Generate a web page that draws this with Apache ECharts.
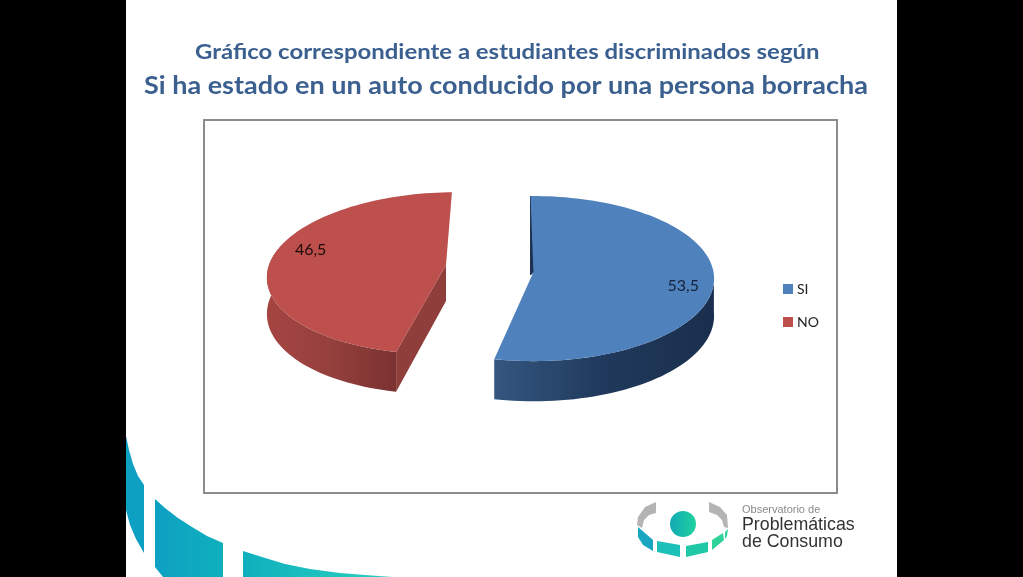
<!DOCTYPE html>
<html><head><meta charset="utf-8">
<style>html,body{margin:0;padding:0;background:#000}#c{width:1023px;height:577px}</style>
<script src="https://cdn.jsdelivr.net/npm/echarts@6/dist/echarts.min.js"></script>
</head><body><div id="c"></div>
<script>
const categories = ['SI', 'NO'];
const seriesValues = [53.5, 46.5];
const valueLabels = ['53,5', '46,5'];
const titleLine1 = 'Gráfico correspondiente a estudiantes discriminados según';
const titleLine2 = 'Si ha estado en un auto conducido por una persona borracha';

const START = -1;
const total = seriesValues.reduce((a, b) => a + b, 0);
const looks = [
  {cx:533.5, cy:272, rx:180, ry:82, k:.08, shear:0, depth:37, face:'#4f81bd', wall:'#1c3252',
   side:['#34567f','#20395c','#1a2f4d'], labelR:.83, labelDy:8, labelColor:'#14233a', labelDx:0},
  {cx:446, cy:265, rx:177, ry:80, k:.10, shear:.12, depth:36, face:'#bd4f4c', wall:'#8f3e3b',
   side:['#a54542','#94403d','#7a3230'], labelR:.76, labelDy:-10, labelColor:'#1c0b0b', labelDx:-3}
];
function pieItem(idx){
  return function(params, api){
    const L = looks[idx], v = api.value(0);
    let before = 0;
    for (let i = 0; i < idx; i++) before += seriesValues[i];
    const a0 = START + before / total * 360, a1 = a0 + v / total * 360;
    const P = (deg, r) => {
      const t = deg * Math.PI / 180, c = Math.cos(t), s = 1 / (1 + L.k * c * r);
      const dy = -L.ry * r * c * s;
      return [L.cx + L.rx * r * Math.sin(t) * s - L.shear * dy, L.cy + dy, s];
    };
    const face = [[L.cx, L.cy]];
    for (let d = a0; d < a1; d += 2) face.push(P(d, 1).slice(0, 2));
    face.push(P(a1, 1).slice(0, 2));
    const lo = Math.max(a0, 92), hi = Math.min(a1, 282);
    const top = [], bot = [];
    for (let d = lo; d < hi; d += 2) { const p = P(d, 1); top.push([p[0], p[1]]); bot.push([p[0], p[1] + L.depth * p[2]]); }
    const e = P(hi, 1); top.push([e[0], e[1]]); bot.push([e[0], e[1] + L.depth * e[2]]);
    const children = [];
    if (idx === 1) {
      const c = P(a0, 1);
      children.push({type:'polygon', shape:{points:[[L.cx, L.cy], [c[0], c[1]], [c[0], c[1] + L.depth * c[2]], [L.cx, L.cy + L.depth]]}, style:{fill:L.wall}});
    } else {
      const s0 = P(a0, 1);
      children.push({type:'polygon', shape:{points:[[s0[0], s0[1]], [L.cx, L.cy], [L.cx - 3, L.cy + 3]]}, style:{fill:L.wall, stroke:L.wall, lineWidth:1}});
    }
    children.push({type:'polygon', shape:{points:top.concat(bot.reverse())},
      style:{fill:{type:'linear', x:0, y:0, x2:1, y2:0, colorStops:[{offset:0,color:L.side[0]},{offset:.5,color:L.side[1]},{offset:1,color:L.side[2]}]}}});
    children.push({type:'polygon', shape:{points:face}, style:{fill:L.face}});
    const m = P((a0 + a1) / 2, L.labelR);
    children.push({type:'text', x:m[0] + L.labelDx, y:m[1] + L.labelDy,
      style:{text:valueLabels[idx], fontFamily:'Lato', fontSize:16, fill:L.labelColor, textAlign:'center', textVerticalAlign:'middle'}});
    return {type:'group', children};
  };
}
const tealA = '#0ea0c2', tealB = '#0fb0bd';
const poly = (points, fill) => ({type:'polygon', z:-5, shape:{points}, style:{fill}});
const stretchedTitle = (text, x, y, fontSize, scaleX) => ({type:'text', z:-3, x, y, scaleX,
  style:{text, fontFamily:'Lato', fontWeight:'bold', fontSize, fill:'#3b6090', textAlign:'left', textVerticalAlign:'middle'}});
const graphic = [
  {type:'rect', z:-10, shape:{x:126,y:0,width:771,height:577}, style:{fill:'#fff'}},
  {type:'rect', z:-4, shape:{x:204,y:120,width:633,height:373}, style:{fill:'#fff',stroke:'#8c8c8c',lineWidth:2}},
  stretchedTitle(titleLine1, 195, 52, 21, 1.139),
  stretchedTitle(titleLine2, 144, 86, 24.5, 1.102),
  poly([[126,436],[129,450],[133,464],[138,476],[144,485],[144,553],[136,539],[130,525],[126,510]], tealA),
  poly([[155,499],[165,508],[178,518],[192,527],[207,536],[223,543],[223,577],[163,577],[155,567]], {type:'linear',x:0,y:0,x2:1,y2:0,colorStops:[{offset:0,color:tealA},{offset:1,color:tealB}]}),
  poly([[243,551],[262,557],[285,564],[310,569],[340,573],[365,575],[393,577],[243,577]], {type:'linear',x:0,y:0,x2:1,y2:0,colorStops:[{offset:0,color:tealB},{offset:1,color:'#2cd0c0'}]}),
  poly([[656,502],[645,507],[638,517],[637,525],[642,528],[644,520],[649,515],[656,513]], '#b4b4b4'),
  poly([[709,502],[720,507],[727,515],[728,528],[724,527],[722,520],[717,515],[709,512]], '#b4b4b4'),
  poly([[638,527],[653,540],[653,551],[643,545],[638,537]], '#18a6c0'),
  poly([[657,541],[680,545],[680,557],[657,552]], '#1cc0b8'),
  poly([[686,546],[708,542],[708,552],[686,557]], '#20c8a8'),
  poly([[712,540],[723,533],[724,540],[712,550]], '#2fd39a'),
  poly([[725,532],[728,529],[727,536],[725,539]], '#2fd39a'),
  {type:'circle', z:-5, shape:{cx:683,cy:524,r:13}, style:{fill:{type:'linear',x:0,y:0,x2:1,y2:0,colorStops:[{offset:0,color:'#12a9b5'},{offset:1,color:'#20d3a0'}]}}},
  {type:'text', z:-5, x:742, y:504, style:{text:'Observatorio de', fontFamily:'Liberation Sans', fontSize:11, fill:'#8a8a8a'}},
  {type:'text', z:-5, x:742, y:516, style:{text:'Problemáticas', fontFamily:'Liberation Sans', fontSize:17.8, fill:'#333'}},
  {type:'text', z:-5, x:742, y:533, style:{text:'de Consumo', fontFamily:'Liberation Sans', fontSize:17.8, fill:'#333'}}
];
const chart = echarts.init(document.getElementById('c'));
chart.setOption({
  animation:false,
  backgroundColor:'#000',
  legend:{data:categories, orient:'vertical', left:778, top:277, itemWidth:10, itemHeight:10, itemGap:19, icon:'rect',
    textStyle:{fontFamily:'Lato', fontSize:14, color:'#222', padding:[0,0,0,-1]}},
  graphic,
  series:categories.map((name, i) => ({
    type:'custom', name, coordinateSystem:'none', renderItem:pieItem(i),
    itemStyle:{color:looks[i].face}, data:[[seriesValues[i]]], silent:true
  }))
});
</script></body></html>
